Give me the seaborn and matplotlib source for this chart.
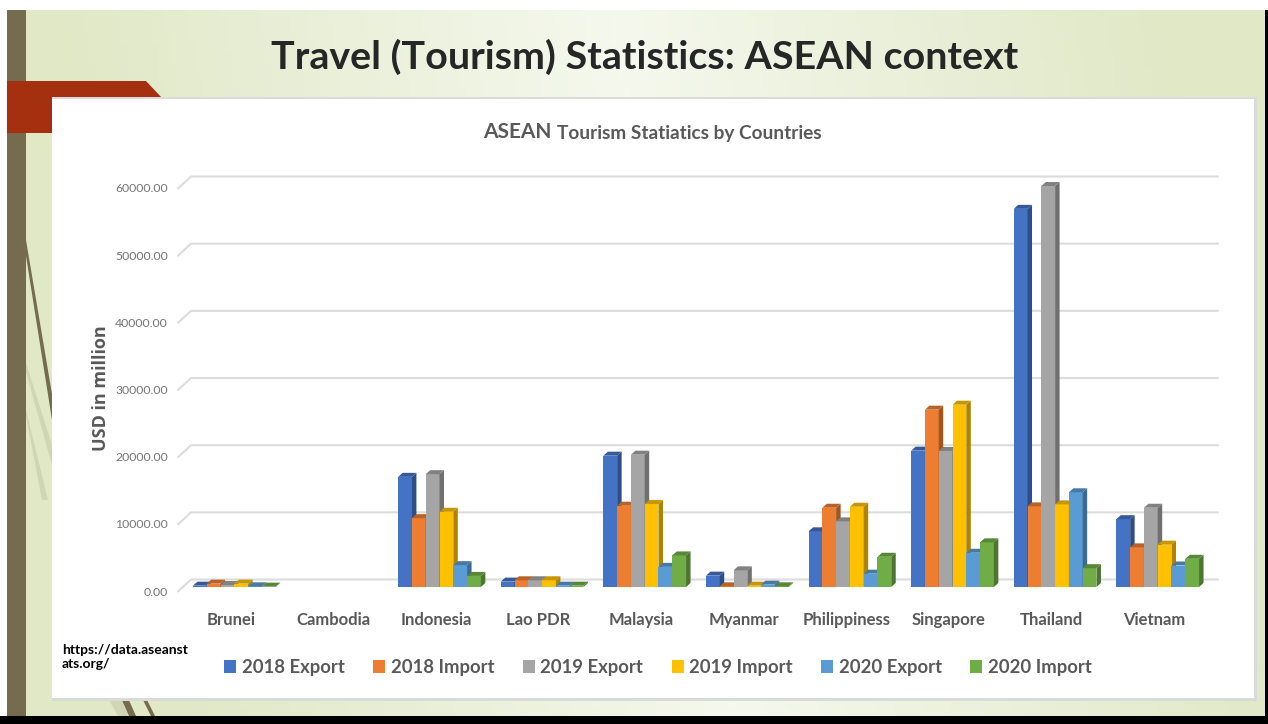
import matplotlib
matplotlib.use("Agg")
import matplotlib.pyplot as plt
from matplotlib.patches import Polygon, Rectangle
from matplotlib.transforms import IdentityTransform, ScaledTranslation
from matplotlib.colors import to_rgb, LinearSegmentedColormap
import numpy as np
import pandas as pd
import seaborn as sns

COUNTRIES = ["Brunei", "Cambodia", "Indonesia", "Lao PDR", "Malaysia", "Myanmar",
             "Philippiness", "Singapore", "Thailand", "Vietnam"]
EXPORT_2018 = [200, 0, 16400, 800, 19550, 1690, 8290, 20300, 56300, 10100]
IMPORT_2018 = [500, 0, 10250, 1000, 12100, 100, 11800, 26400, 12000, 5900]
EXPORT_2019 = [300, 0, 16800, 1000, 19700, 2480, 9770, 20250, 59700, 11800]
IMPORT_2019 = [500, 0, 11200, 1000, 12350, 200, 11950, 27140, 12300, 6300]
EXPORT_2020 = [100, 0, 3250, 200, 3000, 350, 1985, 5100, 14100, 3200]
IMPORT_2020 = [50, 0, 1650, 200, 4700, 100, 4500, 6650, 2800, 4200]
SERIES = ["2018 Export", "2018 Import", "2019 Export", "2019 Import", "2020 Export", "2020 Import"]
COLOURS = ["#4472C4", "#ED7D31", "#A5A5A5", "#FFC000", "#5B9BD5", "#70AD47"]
Y_TICKS = [0, 10000, 20000, 30000, 40000, 50000, 60000]

W, H = 1268, 724
TEXT_GREY = "#595959"
BROWN = "#756C50"
PALE = "#D0D6B4"

sns.set_theme(style="white")
plt.rcParams["font.family"] = ["Lato", "DejaVu Sans"]

fig = plt.figure(figsize=(W / 100, H / 100), dpi=100, facecolor="white")

# slide background, in pixel coordinates
bg = fig.add_axes([0, 0, 1, 1], zorder=0)
xx, yy = np.meshgrid(np.linspace(0, 1, 200), np.linspace(0, 1, 100))
ramp = 1 - np.abs(xx - 0.1 * yy - 0.48) / 0.5
cmap = LinearSegmentedColormap.from_list("slide", ["#E0E8C6", "#F5F8ED"])
bg.imshow(ramp, extent=(7, 1265, 716, 10), cmap=cmap, aspect="auto", zorder=0, vmin=0.1, vmax=1)
bg.set_xlim(0, W)
bg.set_ylim(H, 0)
bg.axis("off")
bg.add_patch(Rectangle((7, 10), 19, 706, color=BROWN, lw=0, zorder=1))
bg.add_patch(Rectangle((1265, 10), 3, 714, color="black", lw=0, zorder=1))
bg.add_patch(Rectangle((0, 716), W, 8, color="black", lw=0, zorder=1))
bg.add_patch(Polygon([(26, 240), (26, 256), (52, 420), (52, 394)], color=BROWN, lw=0, zorder=1))
bg.add_patch(Polygon([(26, 363), (26, 372), (52, 465), (52, 445)], color=PALE, lw=0, zorder=1))
bg.add_patch(Polygon([(26, 410), (26, 416), (42, 500), (48, 500)], color=PALE, lw=0, zorder=1))
bg.add_patch(Polygon([(108, 698), (122, 698), (128, 716), (118, 716)], color=PALE, lw=0, zorder=1))
bg.add_patch(Polygon([(121, 698), (128, 698), (136, 716), (129, 716)], color=BROWN, lw=0, zorder=1))
bg.add_patch(Polygon([(142, 698), (146, 698), (155, 716), (151, 716)], color=BROWN, lw=0, zorder=1))
bg.add_patch(Polygon([(7, 81), (146, 81), (162, 98), (52, 98), (52, 133), (7, 133)],
                     color="#A5300F", lw=0, zorder=2))
bg.add_patch(Rectangle((52, 97), 1205, 604, color="#DADADA", lw=0, zorder=2))
bg.add_patch(Rectangle((52, 99), 1202, 599, color="white", lw=0, zorder=3))

bg.text(645, 57, "Travel (Tourism) Statistics: ASEAN context", ha="center", va="center",
        fontsize=28.4, fontweight="bold", color="#262626", zorder=4)
bg.text(551, 132, "ASEAN", ha="right", va="center", fontsize=15, fontweight="bold", color=TEXT_GREY, zorder=4)
bg.text(557, 133, "Tourism Statiatics by Countries", ha="left", va="center",
        fontsize=13.7, fontweight="bold", color=TEXT_GREY, zorder=4)
bg.text(101, 388, "USD in million", rotation=90, ha="center", va="center",
        fontsize=13, fontweight="bold", color=TEXT_GREY, family="Open Sans", zorder=4)
bg.text(62, 657, "https://data.aseanst\nats.org/", ha="left", va="center",
        fontsize=10, fontweight="bold", color="black", linespacing=1.15, zorder=4)

# front faces sit on this axes, 60000 at y=184 and 0 at y=587
df = pd.DataFrame({"Country": COUNTRIES * 6,
                   "Series": [s for s in SERIES for _ in COUNTRIES],
                   "Value": EXPORT_2018 + IMPORT_2018 + EXPORT_2019 + IMPORT_2019 + EXPORT_2020 + IMPORT_2020})
ax = fig.add_axes([183 / W, 1 - 587 / H, 1026 / W, 403 / H], zorder=1)
ax.patch.set_alpha(0)
sns.barplot(data=df, x="Country", y="Value", hue="Series", hue_order=SERIES, palette=COLOURS,
            width=0.806, gap=0, saturation=1, linewidth=0, ax=ax)
ax.set_xlim(-0.5, 9.5)
ax.set_ylim(0, 60000)
ax.set_yticks(Y_TICKS)
ax.set_yticklabels(["%.2f" % v for v in Y_TICKS], fontsize=8.8, color="#767676")
ax.set_xlabel("")
ax.set_ylabel("")
ax.tick_params(axis="y", length=0, pad=11)
ax.tick_params(axis="x", length=0, pad=18)
for label in ax.get_xticklabels():
    label.set_fontsize(12)
    label.set_fontweight("bold")
    label.set_color(TEXT_GREY)
    label.set_transform(label.get_transform() + ScaledTranslation(-3.5 / 100, 0, fig.dpi_scale_trans))
for label in ax.get_yticklabels():
    label.set_transform(label.get_transform() + ScaledTranslation(0, -4 / 100, fig.dpi_scale_trans))
sns.despine(ax=ax, left=True, bottom=True)

# back wall grid, offset from the front plane
identity = IdentityTransform()
for v in Y_TICKS:
    py = ax.transData.transform((0, v))[1]
    ax.plot([178, 191, 1218], [py - 4.5, py + 7.5, py + 7.5], color="#DCDCDC", lw=1.5,
            transform=identity, clip_on=False, zorder=0.5)

# bar depth: side and top faces taken from the bars seaborn drew
DX, DY = 4.5, 4.0
for j, container in enumerate(ax.containers):
    colour = np.array(to_rgb(COLOURS[j]))
    for bar in container:
        bar.set_zorder(3 + j)
        if bar.get_height() <= 0:
            bar.set_visible(False)
            continue
        x0, y0 = ax.transData.transform((bar.get_x(), 0))
        x1, y1 = ax.transData.transform((bar.get_x() + bar.get_width(), bar.get_height()))
        side = [(x1, y0), (x1 + DX, y0 + DY), (x1 + DX, y1 + DY), (x1, y1)]
        top = [(x0, y1), (x0 + DX, y1 + DY), (x1 + DX, y1 + DY), (x1, y1)]
        ax.add_patch(Polygon(side, color=colour * 0.68, lw=0, transform=identity, clip_on=False, zorder=3 + j))
        ax.add_patch(Polygon(top, color=colour * 0.78, lw=0, transform=identity, clip_on=False, zorder=3 + j))

sns.move_legend(ax, "center", bbox_to_anchor=(658 / W, 1 - 667 / H), bbox_transform=fig.transFigure,
                ncol=6, title=None, frameon=False, handlelength=0.64, handleheight=0.7,
                handletextpad=0.3, columnspacing=1.55, labelcolor=TEXT_GREY, prop={"weight": "bold", "size": 13.3})

fig.savefig("out.png", dpi=100)
